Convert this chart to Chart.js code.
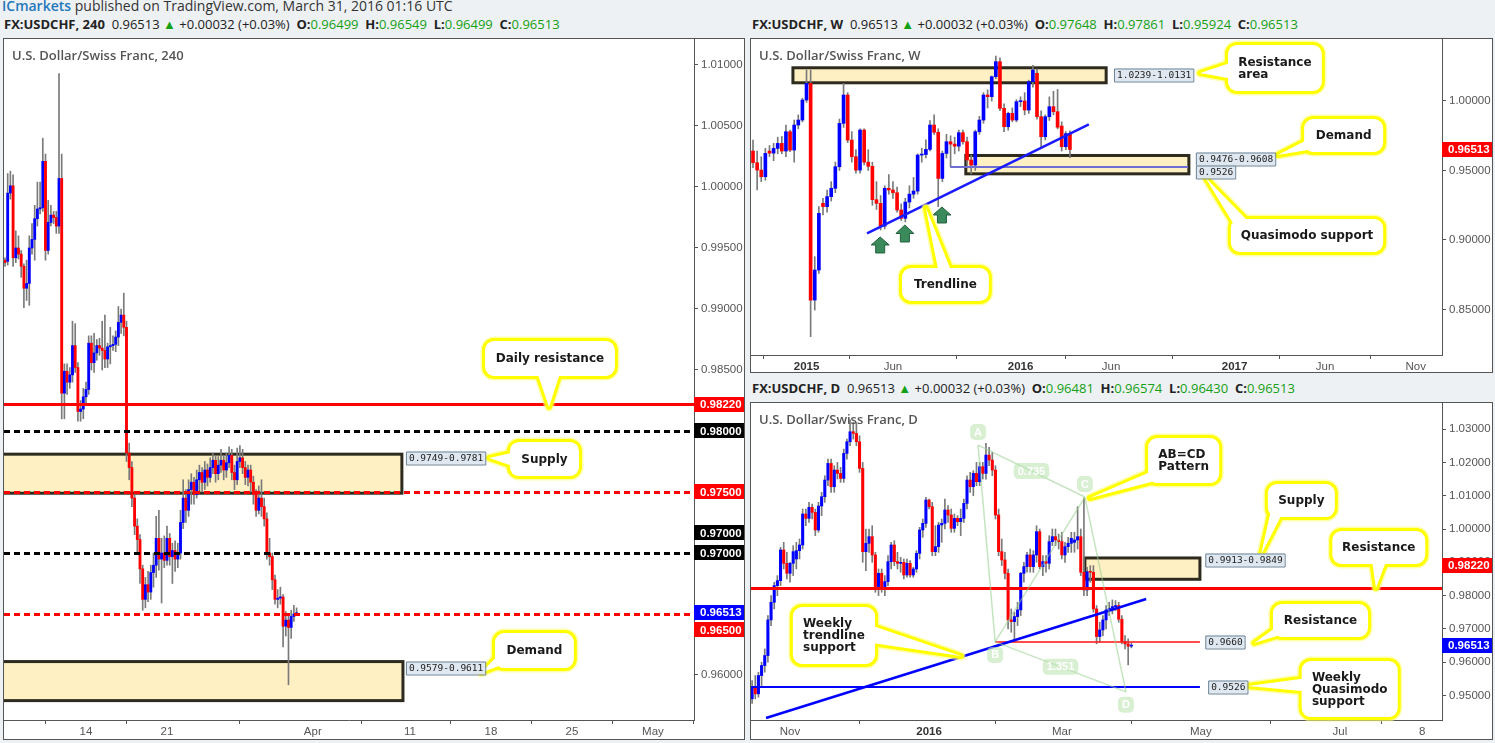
<!DOCTYPE html>
<html><head><meta charset="utf-8"><title>USDCHF</title>
<script src="https://cdn.jsdelivr.net/npm/chart.js@4.4.1/dist/chart.umd.min.js"></script>
<style>
html,body{margin:0;padding:0;width:1495px;height:743px;overflow:hidden;background:#eef1f4;font-family:"Open Sans",sans-serif;}
.panel{position:absolute;background:#fff;border:1px solid #555;box-sizing:border-box;}
.panel canvas{position:absolute;left:0;top:0;}
.hdr{position:absolute;left:2px;top:-3px;font-size:14px;line-height:18px;color:#333;white-space:nowrap;}
.info{position:absolute;font-size:13px;line-height:18px;color:#222;white-space:nowrap;}
.info b{font-weight:700}
.g{color:#14a014}
</style></head><body>
<div class="hdr"><span style="color:#2477bb;font-weight:600">ICmarkets</span> published on TradingView.com, March 31, 2016 01:16 UTC</div>
<div class="info" style="left:4px;top:15px"><b>FX:USDCHF, 240</b>&nbsp; 0.96513 <span class="g">▲</span> +0.00032 (+0.03%)&nbsp; <b>O:</b><span class="g">0.96499</span>&nbsp; <b>H:</b><span class="g">0.96549</span>&nbsp; <b>L:</b><span class="g">0.96499</span>&nbsp; <b>C:</b><span class="g">0.96513</span></div>
<div class="info" style="left:752px;top:15px"><b>FX:USDCHF, W</b>&nbsp; 0.96513 <span class="g">▲</span> +0.00032 (+0.03%)&nbsp; <b>O:</b><span class="g">0.97648</span>&nbsp; <b>H:</b><span class="g">0.97861</span>&nbsp; <b>L:</b><span class="g">0.95924</span>&nbsp; <b>C:</b><span class="g">0.96513</span></div>
<div class="info" style="left:752px;top:379px"><b>FX:USDCHF, D</b>&nbsp; 0.96513 <span class="g">▲</span> +0.00032 (+0.03%)&nbsp; <b>O:</b><span class="g">0.96481</span>&nbsp; <b>H:</b><span class="g">0.96574</span>&nbsp; <b>L:</b><span class="g">0.96430</span>&nbsp; <b>C:</b><span class="g">0.96513</span></div>

<div class="panel" style="left:3px;top:38px;width:742px;height:702px"><canvas id="c4h" width="740" height="700"></canvas></div>
<div class="panel" style="left:750px;top:38px;width:743px;height:335px"><canvas id="cw" width="741" height="333"></canvas></div>
<div class="panel" style="left:750px;top:402px;width:743px;height:338px"><canvas id="cd" width="741" height="336"></canvas></div>

<script>
// ---------------- 4H data (bar index 0 = Mar 7 2016 00:00, 6 bars per day) ----------------
const h4O=[.9940,.9939,.9995,1.0001,.9942,.9950,.9945,.9935,.9917,.9921,.9950,.9957,.9974,.9982,.9983,1.0021,.9948,.9971,.9977,.9975,.9968,1.0007,.9831,.9849,.9840,.9846,.9870,.9852,.9816,.9818,.9828,.9834,.9872,.9856,.9864,.9870,.9868,.9866,.9859,.9869,.9870,.9871,.9877,.9889,.9895,.9885,
.9782,.9770,.9745,.9722,.9711,.9687,.9662,.9674,.9668,.9684,.9690,.9712,.9695,.9700,.9694,.9712,.9697,.9702,.9695,.9700,.9725,.9745,.9735,.9752,.9758,.9748,.9760,.9766,.9758,.9768,.9762,.9770,.9776,.9765,.9772,.9776,.9768,.9774,.9780,.9766,.9760,.9775,.9778,.9770,.9762,.9768,.9758,.9748,.9735,.9745,.9738,.9728,.9700,.9697,.9678,.9662,.9663,.9664,.9640,.9645,.9639,.9648,.9650];
const h4H=[.9942,1.0011,1.0013,1.0010,.9964,.9960,.9948,.9937,.9940,.9960,.9970,.9985,1.0004,1.0004,1.0040,1.0027,.9989,.9985,.9980,.9980,1.0093,1.0027,.9855,.9855,.9852,.9890,.9888,.9856,.9825,.9835,.9840,.9878,.9878,.9880,.9875,.9876,.9890,.9895,.9872,.9885,.9878,.9882,.9902,.9900,.9913,.9890,
.9790,.9775,.9750,.9728,.9715,.9690,.9680,.9685,.9690,.9700,.9730,.9735,.9712,.9714,.9722,.9716,.9708,.9710,.9708,.9735,.9760,.9752,.9760,.9765,.9762,.9768,.9772,.9770,.9775,.9773,.9778,.9782,.9780,.9779,.9785,.9780,.9782,.9787,.9785,.9772,.9786,.9788,.9785,.9775,.9772,.9772,.9763,.9752,.9755,.9760,.9745,.9733,.9712,.9700,.9682,.9670,.9672,.9666,.9652,.9650,.9653,.9657,.9655];
const h4L=[.9935,.9936,.9990,.9935,.9938,.9941,.9926,.9901,.9907,.9903,.9945,.9940,.9968,.9978,.9980,.9940,.9945,.9968,.9970,.9962,.9962,.9810,.9810,.9830,.9835,.9840,.9848,.9808,.9808,.9810,.9822,.9830,.9850,.9848,.9858,.9862,.9850,.9852,.9852,.9855,.9866,.9865,.9870,.9880,.9878,.9775,
.9760,.9738,.9715,.9700,.9675,.9653,.9655,.9660,.9662,.9672,.9680,.9686,.9659,.9688,.9690,.9690,.9675,.9685,.9688,.9695,.9720,.9725,.9730,.9740,.9740,.9745,.9750,.9750,.9752,.9755,.9758,.9765,.9758,.9760,.9766,.9760,.9762,.9770,.9760,.9752,.9756,.9770,.9765,.9756,.9755,.9750,.9740,.9730,.9732,.9730,.9722,.9695,.9690,.9670,.9658,.9655,.9658,.9623,.9632,.9592,.9630,.9644,.9650];
const h4C=[.9938,.9995,1.0001,.9942,.9950,.9945,.9935,.9917,.9921,.9950,.9957,.9974,.9982,.9983,1.0021,.9948,.9971,.9977,.9975,.9968,1.0007,.9831,.9849,.9840,.9846,.9870,.9852,.9816,.9818,.9828,.9834,.9872,.9856,.9864,.9870,.9868,.9866,.9859,.9869,.9870,.9871,.9877,.9889,.9895,.9885,.9782,
.9770,.9745,.9722,.9711,.9687,.9662,.9674,.9668,.9684,.9690,.9712,.9695,.9700,.9694,.9712,.9697,.9702,.9695,.9700,.9725,.9745,.9735,.9752,.9758,.9748,.9760,.9766,.9758,.9768,.9762,.9770,.9776,.9765,.9772,.9776,.9768,.9774,.9780,.9766,.9760,.9775,.9778,.9770,.9762,.9768,.9758,.9748,.9735,.9745,.9738,.9728,.9700,.9697,.9678,.9662,.9663,.9664,.9640,.9645,.9639,.9648,.9650,.9651];
const h4TickIdx=[30,60,114,150,180,210,240];
const h4TickLbl=['14','21','Apr','11','18','25','May'];
const h4PriceTicks=[1.01,1.005,1.0,0.995,0.99,0.985,0.98,0.975,0.97,0.965,0.96];
const h4Lines=[0.9822,0.98,0.975,0.97,0.965];
const h4Zones=[[0.9749,0.9781],[0.9579,0.9611]];
const lastPrice=0.96513;

// ---------------- Weekly data (index 0 = week of Oct 6 2014) ----------------
const wkO=[.9640,.9556,.9503,.9455,.9640,.9625,.9659,.9695,.9640,.9779,.9647,.9827,.9863,1.0007,1.0127,.8568,.8784,.9264,.9240,.9312,.9372,.9527,.9839,1.0043,.9719,.9599,.9503,.9791,.9560,.9530,.9290,.9264,.9100,.9372,.9360,.9340,.9216,.9156,.9273,.9330,.9352,.9611,.9615,.9652,.9827,.9775,.9443,.9623,.9707,.9690,.9675,.9772,.9707,.9575,.9539,.9779,.9863,1.0043,1.0031,1.0175,1.0283,.9947,.9815,.9911,.9863,.9995,1.0000,.9935,1.0139,1.0199,.9887,.9743,.9887,.9959,.9923,.9820,.9671,.97648];
const wkH=[.9719,.9640,.9599,.9659,.9680,.9695,.9740,.9745,.9827,.9790,.9863,.9900,1.0020,1.0223,1.0223,.8880,.9240,.9300,.9360,.9420,.9560,.9870,1.0127,1.0060,.9780,.9650,.9800,.9800,.9650,.9560,.9420,.9320,.9390,.9470,.9420,.9380,.9260,.9300,.9390,.9450,.9620,.9660,.9720,.9860,.9900,.9800,.9640,.9760,.9750,.9740,.9790,.9790,.9740,.9610,.9790,.9890,1.0060,1.0080,1.0180,1.0324,1.0310,.9980,.9920,.9950,1.0010,1.0030,1.0060,1.0150,1.0257,1.0230,.9930,.9900,1.0030,1.0070,1.0083,.9850,.9780,.97861];
const wkL=[.9520,.9360,.9420,.9430,.9600,.9570,.9620,.9620,.9600,.9635,.9560,.9800,.9850,.9990,.8305,.8496,.8760,.9180,.9200,.9280,.9340,.9500,.9810,.9700,.9560,.9480,.9480,.9540,.9500,.9250,.9220,.9072,.9080,.9330,.9300,.9200,.9140,.9130,.9230,.9300,.9330,.9560,.9590,.9640,.9760,.9240,.9420,.9590,.9526,.9620,.9640,.9690,.9540,.9476,.9500,.9760,.9840,.9950,1.0000,1.0160,.9930,.9780,.9790,.9850,.9850,.9960,.9900,.9910,1.0100,.9870,.9660,.9720,.9860,.9900,.9800,.9640,.9650,.95924];
const wkC=[.9556,.9503,.9455,.9623,.9625,.9659,.9695,.9640,.9779,.9647,.9827,.9863,1.0007,1.0127,.8568,.8784,.9192,.9240,.9312,.9372,.9527,.9839,1.0043,.9719,.9599,.9503,.9791,.9560,.9530,.9290,.9264,.9100,.9372,.9360,.9340,.9216,.9156,.9273,.9330,.9352,.9611,.9615,.9652,.9827,.9775,.9443,.9623,.9707,.9690,.9675,.9772,.9707,.9575,.9539,.9779,.9863,1.0043,1.0031,1.0175,1.0283,.9947,.9815,.9911,.9863,.9995,1.0000,.9935,1.0139,1.0223,.9887,.9743,.9887,.9959,.9923,.9811,.9671,.9765,.96513];
const wkTickIdx=[13,34,65,87,117,139,161];
const wkTickLbl=['2015','Jun','2016','Jun','2017','Jun','Nov'];
const wkTickBold=[true,false,true,false,true,false,false];
const wkPriceTicks=[1.0,0.95,0.90,0.85];
const wkZones=[[1.0131,1.0239],[0.9476,0.9608]];
const wkQM=0.9526;

// ---------------- Daily data (index 0 = Oct 15 2015, weekdays) ----------------
const dO=[.9490,.9526,.9505,.9560,.9590,.9620,.9727,.9780,.9830,.9845,.9937,.9897,.9867,.9897,.9910,.9935,.9952,1.0045,1.0032,1.0065,1.0050,.9997,1.0069,1.0097,1.0147,1.0197,1.0127,1.0177,1.0167,1.0152,1.0227,1.0262,1.0292,1.0287,1.0262,1.0182,.9932,.9957,.9977,.9922,.9827,.9867,.9827,.9842,.9902,.9952,.9902,.9897,.9900,.9862,.9897,.9862,.9880,.9927,.9997,1.0017,1.0087,1.0067,.9932,.9947,1.0012,1.0017,1.0057,1.0042,1.0002,1.0032,1.0022,1.0032,1.0077,1.0147,1.0127,1.0167,1.0142,1.0187,1.0167,1.0222,1.0207,1.0177,1.0042,.9932,.9907,.9867,.9727,.9722,.9737,.9757,.9867,.9887,.9922,.9887,.9922,.9992,.9887,.9902,.9897,.9962,.9977,.9967,.9962,.9922,.9947,.9957,.9960,.9967,.9977,.9870,.9817,.9872,.9870,.9760,.9677,.9697,.9727,.9757,.9762,.9767,.9770,.9729,.9662,.9655,.96481];
const dH=[.9545,.9560,.9570,.9600,.9640,.9740,.9800,.9840,.9860,.9945,.9960,.9930,.9900,.9950,.9960,.9970,1.0060,1.0060,1.0080,1.0075,1.0060,1.0080,1.0110,1.0160,1.0210,1.0210,1.0190,1.0200,1.0185,1.0240,1.0270,1.0328,1.0320,1.0320,1.0280,1.0200,1.0000,1.0000,1.0010,.9930,.9880,.9880,.9860,.9920,.9960,.9965,.9930,.9915,.9910,.9910,.9905,.9885,.9935,1.0005,1.0030,1.0095,1.0090,1.0080,1.0010,1.0020,1.0030,1.0090,1.0070,1.0060,1.0045,1.0040,1.0060,1.0090,1.0160,1.0170,1.0175,1.0200,1.0200,1.0200,1.0257,1.0245,1.0230,1.0190,1.0060,.9970,.9930,.9880,.9760,.9750,.9780,.9870,.9900,.9930,.9940,.9935,1.0010,1.0000,.9920,.9920,.9980,1.0000,1.0000,.9985,.9990,.9960,.9975,.9990,.9990,1.0067,1.0000,1.0093,.9885,.9890,.9890,.9770,.9720,.9740,.9770,.9780,.9787,.9785,.9780,.9740,.9680,.9670,.96574];
const dL=[.9476,.9490,.9495,.9530,.9570,.9600,.9710,.9760,.9800,.9830,.9880,.9850,.9840,.9860,.9880,.9910,.9940,1.0010,1.0020,1.0030,.9980,.9990,1.0040,1.0080,1.0130,1.0110,1.0110,1.0150,1.0140,1.0140,1.0210,1.0250,1.0270,1.0250,1.0170,.9900,.9875,.9930,.9900,.9810,.9800,.9810,.9800,.9830,.9880,.9890,.9880,.9870,.9850,.9855,.9855,.9855,.9870,.9910,.9975,1.0005,1.0060,.9920,.9920,.9930,.9960,1.0000,1.0020,.9990,.9990,1.0010,.9980,1.0020,1.0060,1.0110,1.0100,1.0130,1.0130,1.0150,1.0150,1.0190,1.0160,1.0030,.9920,.9890,.9850,.9700,.9690,.9660,.9710,.9740,.9840,.9870,.9870,.9870,.9900,.9880,.9860,.9870,.9880,.9950,.9950,.9940,.9910,.9900,.9930,.9930,.9930,.9940,.9860,.9800,.9800,.9840,.9750,.9655,.9660,.9680,.9700,.9740,.9745,.9755,.9720,.9655,.9640,.9592,.96430];
const dC=[.9526,.9505,.9560,.9590,.9620,.9727,.9780,.9830,.9845,.9937,.9897,.9867,.9897,.9932,.9935,.9952,1.0045,1.0032,1.0065,1.0050,.9997,1.0069,1.0097,1.0147,1.0197,1.0127,1.0177,1.0167,1.0152,1.0227,1.0262,1.0292,1.0287,1.0262,1.0182,.9932,.9957,.9977,.9922,.9827,.9867,.9827,.9842,.9902,.9952,.9902,.9897,.9900,.9862,.9897,.9862,.9880,.9927,.9997,1.0017,1.0087,1.0067,.9932,.9947,1.0012,1.0017,1.0057,1.0042,1.0002,1.0032,1.0022,1.0032,1.0077,1.0147,1.0127,1.0167,1.0142,1.0187,1.0167,1.0222,1.0207,1.0177,1.0042,.9932,.9907,.9867,.9727,.9722,.9737,.9757,.9867,.9887,.9922,.9887,.9922,.9992,.9887,.9902,.9897,.9962,.9977,.9967,.9962,.9922,.9947,.9957,.9972,.9967,.9977,.9870,.9817,.9872,.9870,.9760,.9677,.9697,.9727,.9757,.9762,.9767,.9770,.9729,.9662,.9655,.9648,.96513];
const dTickIdx=[12,56,98,142,186,212];
const dTickLbl=['Nov','2016','Mar','May','Jul','8'];
const dTickBold=[false,true,false,false,false,false];
const dPriceTicks=[1.03,1.02,1.01,1.0,0.99,0.98,0.97,0.96,0.95];
const dZone=[0.9849,0.9913];
const dLines=[0.9822,0.9660,0.9526];
const dABCD=[[71.5,1.0252],[76.9,0.9661],[105.3,1.0096],[118.3,0.9511]];
const dABCDratio=['0.735','1.351'];
</script>
<script>
const FONT_AX='"Liberation Sans", Arial, sans-serif';
function rrect(ctx,x,y,w,h,r){ctx.beginPath();ctx.moveTo(x+r,y);ctx.lineTo(x+w-r,y);ctx.arcTo(x+w,y,x+w,y+r,r);ctx.lineTo(x+w,y+h-r);ctx.arcTo(x+w,y+h,x+w-r,y+h,r);ctx.lineTo(x+r,y+h);ctx.arcTo(x,y+h,x,y+h-r,r);ctx.lineTo(x,y+r);ctx.arcTo(x,y,x+r,y,r);ctx.closePath();}
function drawCallout(ctx,L,T,R,B,side,f1,f2,tx,ty,lines){
  const ins=8;let p1,p2;
  if(side==='top'){p1=[L+(R-L)*f1,T+ins];p2=[L+(R-L)*f2,T+ins];}
  if(side==='bottom'){p1=[L+(R-L)*f1,B-ins];p2=[L+(R-L)*f2,B-ins];}
  if(side==='left'){p1=[L+ins,T+(B-T)*f1];p2=[L+ins,T+(B-T)*f2];}
  if(side==='right'){p1=[R-ins,T+(B-T)*f1];p2=[R-ins,T+(B-T)*f2];}
  const tri=()=>{ctx.beginPath();ctx.moveTo(p1[0],p1[1]);ctx.lineTo(tx,ty);ctx.lineTo(p2[0],p2[1]);ctx.closePath();};
  const rect=()=>rrect(ctx,L,T,R-L,B-T,9);
  ctx.lineJoin='round';
  [['rgba(255,255,120,0.6)',9],['#ffff00',6]].forEach(([c,w])=>{ctx.strokeStyle=c;ctx.lineWidth=w;rect();ctx.stroke();tri();ctx.stroke();});
  ctx.fillStyle='#ffffff';rect();ctx.fill();tri();ctx.fill();
  ctx.font='bold 12px "DejaVu Sans", Verdana, sans-serif';ctx.fillStyle='#1a1a1a';ctx.textAlign='left';ctx.textBaseline='alphabetic';
  const mw=Math.max(...lines.map(s=>ctx.measureText(s).width));const lh=12;
  const x0=(L+R)/2-mw/2;const y0=(T+B)/2-lines.length*lh/2+lh*0.82;
  lines.forEach((s,i)=>ctx.fillText(s,x0,y0+i*lh));
}
function annPlugin(cfg){
  return {id:'ann'+cfg.key,
    beforeDatasetsDraw(chart){
      const ctx=chart.ctx,a=chart.chartArea,X=chart.scales.x,Y=chart.scales.y;
      ctx.save();ctx.beginPath();ctx.rect(a.left,a.top,a.right-a.left,a.bottom-a.top);ctx.clip();
      (cfg.boxes||[]).forEach(b=>{const x1=X.getPixelForValue(b.x1),x2=X.getPixelForValue(b.x2),y1=Y.getPixelForValue(b.z[1]),y2=Y.getPixelForValue(b.z[0]);
        ctx.fillStyle='#fff0c4';ctx.fillRect(x1,y1,x2-x1,y2-y1);ctx.strokeStyle='#2d2a1e';ctx.lineWidth=3;ctx.strokeRect(x1,y1,x2-x1,y2-y1);});
      ctx.restore();
    },
    afterDatasetsDraw(chart){
      const ctx=chart.ctx,a=chart.chartArea,X=chart.scales.x,Y=chart.scales.y;
      const px=v=>X.getPixelForValue(v),py=v=>Y.getPixelForValue(v);
      ctx.save();ctx.beginPath();ctx.rect(a.left,a.top,a.right-a.left,a.bottom-a.top);ctx.clip();
      (cfg.hlines||[]).forEach(l=>{ctx.beginPath();ctx.strokeStyle=l.color;ctx.lineWidth=l.w;ctx.setLineDash(l.dash||[]);
        const y=Math.round(py(l.p))+(l.w%2?0.5:0);const x1=l.x1===undefined?a.left:px(l.x1),x2=l.x2===undefined?a.right:px(l.x2);
        ctx.moveTo(x1,y);ctx.lineTo(x2,y);ctx.stroke();});
      ctx.setLineDash([]);
      (cfg.segs||[]).forEach(s=>{ctx.beginPath();ctx.strokeStyle=s.color;ctx.lineWidth=s.w;ctx.moveTo(px(s.x1),py(s.p1));ctx.lineTo(px(s.x2),py(s.p2));ctx.stroke();});
      if(cfg.abcd){const P=cfg.abcd.pts.map(p=>[px(p[0]),py(p[1])]);
        ctx.strokeStyle='rgba(150,205,140,0.55)';ctx.lineWidth=1.5;
        [[0,1],[1,2],[2,3],[0,2],[1,3]].forEach(([i,j])=>{ctx.beginPath();ctx.moveTo(P[i][0],P[i][1]);ctx.lineTo(P[j][0],P[j][1]);ctx.stroke();});
        const tag=(t,x,y)=>{ctx.font='bold 11px '+FONT_AX;const w=ctx.measureText(t).width+8;ctx.fillStyle='rgba(190,228,180,0.6)';rrect(ctx,x-w/2,y-8,w,16,5);ctx.fill();ctx.fillStyle='#fff';ctx.textAlign='center';ctx.textBaseline='middle';ctx.fillText(t,x,y+0.5);};
        ['A','B','C','D'].forEach((t,i)=>tag(t,P[i][0],P[i][1]+(i%2?13:-13)));
        tag(cfg.abcd.ratios[0],(P[0][0]+P[2][0])/2,(P[0][1]+P[2][1])/2);
        tag(cfg.abcd.ratios[1],(P[1][0]+P[3][0])/2,(P[1][1]+P[3][1])/2);
      }
      (cfg.arrows||[]).forEach(ar=>{const cx=px(ar.x),yt=py(ar.p1),yb=py(ar.p2);const hh=(yb-yt)*0.5;
        ctx.beginPath();ctx.moveTo(cx,yt);ctx.lineTo(cx+9,yt+hh);ctx.lineTo(cx+4.5,yt+hh);ctx.lineTo(cx+4.5,yb);ctx.lineTo(cx-4.5,yb);ctx.lineTo(cx-4.5,yt+hh);ctx.lineTo(cx-9,yt+hh);ctx.closePath();
        ctx.fillStyle='#3a8a5c';ctx.fill();ctx.strokeStyle='#24603e';ctx.lineWidth=1;ctx.stroke();});
      ctx.restore();
      (cfg.callouts||[]).forEach(c=>drawCallout(ctx,px(c.x1),py(c.p1),px(c.x2),py(c.p2),c.side,c.f1,c.f2,px(c.tx),py(c.tp),c.lines));
      (cfg.labels||[]).forEach(l=>{ctx.font='9.5px "DejaVu Sans Mono", monospace';const w=ctx.measureText(l.text).width+5;const x=px(l.x),y=Math.round(py(l.p));
        ctx.fillStyle='#dfe8f0';ctx.fillRect(x,y-6.5,w,13);ctx.strokeStyle='#6e8597';ctx.lineWidth=1;ctx.strokeRect(x+0.5,y-6,w,13);
        ctx.fillStyle='#222';ctx.textAlign='left';ctx.textBaseline='middle';ctx.fillText(l.text,x+3,y+0.5);});
      ctx.font='600 13px "Open Sans", sans-serif';ctx.fillStyle='#555';ctx.textAlign='left';ctx.textBaseline='alphabetic';
      ctx.fillText(cfg.title,a.left+8,a.top+21);
      (cfg.badges||[]).forEach(b=>{const y=py(b.p)+(b.dy||0);ctx.fillStyle=b.bg;ctx.fillRect(a.right,Math.round(y-7.5),50,15);
        ctx.fillStyle='#fff';ctx.font='bold 11.5px '+FONT_AX;ctx.textAlign='left';ctx.textBaseline='middle';ctx.fillText(b.text,a.right+6,Math.round(y)+0.5);});
    }
  };
}
function makeChart(id,O,H,L,C,opt){
  const wick=O.map((o,i)=>({x:i,y:[L[i],H[i]]}));
  const body=O.map((o,i)=>({x:i,y:[Math.min(o,C[i]),Math.max(o,C[i])]}));
  const col=O.map((o,i)=>C[i]>=o?'#0000ff':'#ff0000');
  return new Chart(document.getElementById(id),{
    type:'bar',
    data:{datasets:[
      {data:body,backgroundColor:col,barThickness:opt.bw,grouped:false,order:1,minBarLength:1,borderWidth:0},
      {data:wick,backgroundColor:'#7a7a7a',barThickness:1,grouped:false,order:2,borderWidth:0}
    ]},
    options:{responsive:false,animation:false,devicePixelRatio:1,events:[],
      layout:{padding:0,autoPadding:false},
      plugins:{legend:{display:false},tooltip:{enabled:false}},
      scales:{
        x:{type:'linear',min:opt.xmin,max:opt.xmax,offset:false,
          afterBuildTicks:s=>{s.ticks=opt.xt.map(v=>({value:v}));},
          afterFit:s=>{s.height=opt.xh;s.paddingLeft=0;s.paddingRight=0;s.paddingTop=0;s.paddingBottom=0;},
          grid:{drawOnChartArea:false,drawTicks:true,tickLength:4,color:'#555'},
          border:{display:true,color:'#555',width:1},
          ticks:{autoSkip:false,maxRotation:0,padding:1,color:c=>(opt.xb&&opt.xb[c.index])?'#333':'#555',
            font:c=>({family:FONT_AX,size:11.5,weight:(opt.xb&&opt.xb[c.index])?'bold':'normal'}),
            callback:(v,i)=>opt.xl[i]}},
        y:{type:'linear',position:'right',min:opt.ymin,max:opt.ymax,
          afterBuildTicks:s=>{s.ticks=opt.yt.map(v=>({value:v}));},
          afterFit:s=>{s.width=opt.yw;s.paddingTop=0;s.paddingBottom=0;s.paddingLeft=0;s.paddingRight=0;},
          grid:{drawOnChartArea:false,drawTicks:true,tickLength:4,color:'#555'},
          border:{display:true,color:'#555',width:1},
          ticks:{padding:3,color:'#555',font:{family:FONT_AX,size:11.5},callback:v=>v.toFixed(5)}}
      }},
    plugins:[annPlugin(opt.ann)]
  });
}

// ---- 4H chart ----
makeChart('c4h',h4O,h4H,h4L,h4C,{bw:2.2,xmin:-0.37,xmax:255.2,ymin:0.956311,ymax:1.012131,xh:19,yw:50,
  xt:h4TickIdx,xl:h4TickLbl,yt:h4PriceTicks,
  ann:{key:'h4',title:'U.S. Dollar/Swiss Franc, 240',
    boxes:[{x1:-5,x2:147,z:h4Zones[0]},{x1:-5,x2:147.4,z:h4Zones[1]}],
    hlines:[{p:h4Lines[0],color:'#ff0000',w:3},{p:h4Lines[1],color:'#000',w:3,dash:[6,4]},{p:h4Lines[2],color:'#ff0000',w:3,dash:[6,4]},{p:h4Lines[3],color:'#000',w:3,dash:[6,4]},{p:h4Lines[4],color:'#ff0000',w:3,dash:[6,4]}],
    labels:[{x:148.5,p:0.97775,text:'0.9749-0.9781'},{x:148.5,p:0.96057,text:'0.9579-0.9611'}],
    callouts:[
      {x1:177.8,x2:225.9,p1:0.98738,p2:0.98451,side:'bottom',f1:0.39,f2:0.59,tx:201.5,tp:0.98197,lines:['Daily resistance']},
      {x1:187,x2:212.6,p1:0.97910,p2:0.97631,side:'left',f1:0.28,f2:0.76,tx:179.3,tp:0.97779,lines:['Supply']},
      {x1:181.5,x2:210.7,p1:0.96344,p2:0.96057,side:'left',f1:0.5,f2:0.9,tx:176.3,tp:0.96018,lines:['Demand']}],
    badges:[{p:h4Lines[0],text:'0.98220',bg:'#ff0000'},{p:h4Lines[1],text:'0.98000',bg:'#000'},{p:h4Lines[2],text:'0.97500',bg:'#ff0000'},
      {p:h4Lines[3],text:'0.97000',bg:'#000',dy:-20},{p:h4Lines[3],text:'0.97000',bg:'#000'},
      {p:lastPrice,text:'0.96513',bg:'#0000ff'},{p:h4Lines[4],text:'0.96500',bg:'#ff0000',dy:16}]}});

// ---- Weekly chart ----
makeChart('cw',wkO,wkH,wkL,wkC,{bw:3,xmin:-0.49,xmax:167.4,ymin:0.817266,ymax:1.044604,xh:17,yw:50,
  xt:wkTickIdx,xl:wkTickLbl,xb:wkTickBold,yt:wkPriceTicks,
  ann:{key:'wk',title:'U.S. Dollar/Swiss Franc, W',
    boxes:[{x1:9.7,x2:85.8,z:wkZones[0]},{x1:51.7,x2:105.9,z:wkZones[1]}],
    hlines:[{p:wkQM,x1:47.9,x2:105.7,color:'#6e6ed2',w:2}],
    segs:[{x1:27.7,p1:0.90482,x2:81.6,p2:0.98324,color:'#1a1aff',w:2.5}],
    arrows:[{x:30.9,p1:0.90216,p2:0.89065},{x:36.9,p1:0.91079,p2:0.89856},{x:45.9,p1:0.92374,p2:0.91223}],
    labels:[{x:87.7,p:1.0187,text:'1.0239-1.0131'},{x:107.6,p:0.95863,text:'0.9476-0.9608'},{x:107.6,p:0.94928,text:'0.9526'}],
    callouts:[
      {x1:115.4,x2:138.2,p1:1.0403,p2:1.0072,side:'left',f1:0.35,f2:0.75,tx:108.6,tp:1.0201,lines:['Resistance','area']},
      {x1:133.9,x2:153.1,p1:0.98705,p2:0.96331,side:'left',f1:0.55,f2:0.92,tx:127.5,tp:0.96115,lines:['Demand']},
      {x1:116.1,x2:153.1,p1:0.91511,p2:0.89137,side:'top',f1:0.03,f2:0.15,tx:109.8,tp:0.94532,lines:['Quasimodo support']},
      {x1:36.2,x2:57.3,p1:0.87986,p2:0.85612,side:'top',f1:0.43,f2:0.59,tx:42,tp:0.92302,lines:['Trendline']}],
    badges:[{p:lastPrice,text:'0.96513',bg:'#ff0000'}]}});

// ---- Daily chart ----
makeChart('cd',dO,dH,dL,dC,{bw:2.4,xmin:-0.35,xmax:218.3,ymin:0.942643,ymax:1.037838,xh:19,yw:50,
  xt:dTickIdx,xl:dTickLbl,xb:dTickBold,yt:dPriceTicks,
  ann:{key:'d',title:'U.S. Dollar/Swiss Franc, D',
    boxes:[{x1:105.3,x2:141.7,z:dZone}],
    hlines:[{p:dLines[0],color:'#ff0000',w:3},{p:dLines[1],x1:76.9,x2:141.7,color:'rgba(255,30,30,0.8)',w:2},{p:dLines[2],x2:141.7,color:'#0000ff',w:2}],
    segs:[{x1:4.4,p1:0.94324,x2:124.7,p2:0.97898,color:'#0000ff',w:2.5}],
    abcd:{pts:dABCD,ratios:dABCDratio},
    labels:[{x:143.4,p:0.99069,text:'0.9913-0.9849'},{x:143.4,p:0.9660,text:'0.9660'},{x:144.3,p:0.9526,text:'0.9526'}],
    callouts:[
      {x1:125.3,x2:147.8,p1:1.02733,p2:1.01381,side:'left',f1:0.7,f2:0.95,tx:106.9,tp:1.00931,lines:['AB=CD','Pattern']},
      {x1:163.2,x2:184.4,p1:1.01351,p2:1.0036,side:'bottom',f1:0.05,f2:0.25,tx:161,tp:0.99219,lines:['Supply']},
      {x1:183.6,x2:213,p1:0.9994,p2:0.98949,side:'bottom',f1:0.42,f2:0.6,tx:197.4,tp:0.98228,lines:['Resistance']},
      {x1:164.8,x2:194.9,p1:0.97748,p2:0.96757,side:'left',f1:0.6,f2:0.93,tx:158.9,tp:0.96577,lines:['Resistance']},
      {x1:173.9,x2:204.3,p1:0.96036,p2:0.94354,side:'left',f1:0.3,f2:0.55,tx:156.9,tp:0.95285,lines:['Weekly','Quasimodo','support']},
      {x1:12.9,x2:38.9,p1:0.97658,p2:0.95946,side:'right',f1:0.3,f2:0.62,tx:66.1,tp:0.96186,lines:['Weekly','trendline','support']}],
    badges:[{p:dLines[0],text:'0.98220',bg:'#ff0000',dy:-23},{p:lastPrice,text:'0.96513',bg:'#0000ff'}]}});
</script>
</body></html>
